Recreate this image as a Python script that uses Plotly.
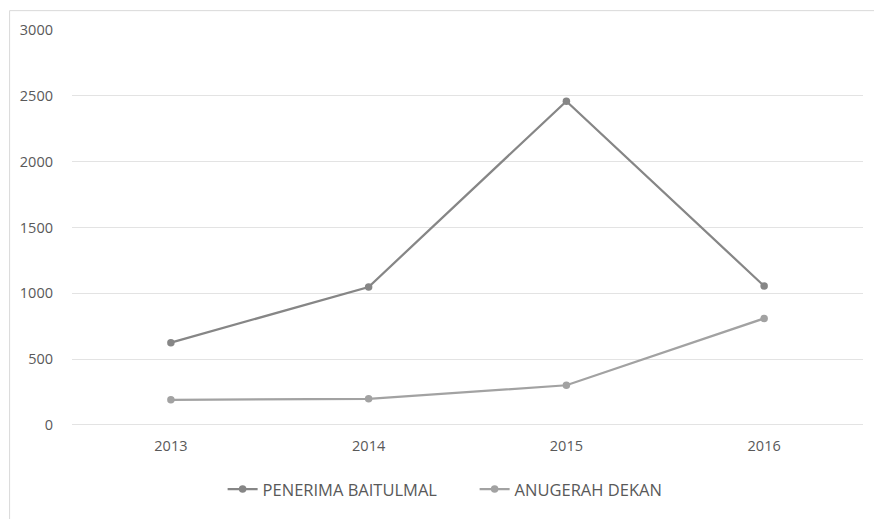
import plotly.graph_objects as go

years = ["2013", "2014", "2015", "2016"]
penerima_baitulmal = [625, 1048, 2460, 1055]
anugerah_dekan = [190, 198, 301, 809]
y_ticks = [0, 500, 1000, 1500, 2000, 2500, 3000]

fig = go.Figure()
fig.add_trace(go.Scatter(
    x=years, y=penerima_baitulmal, name="PENERIMA BAITULMAL",
    mode="lines+markers",
    line=dict(color="#868686", width=2.25),
    marker=dict(color="#868686", size=7.5),
))
fig.add_trace(go.Scatter(
    x=years, y=anugerah_dekan, name="ANUGERAH DEKAN",
    mode="lines+markers",
    line=dict(color="#a2a2a2", width=2.25),
    marker=dict(color="#a2a2a2", size=7.5),
))

fig.update_layout(
    width=874, height=511,
    margin=dict(l=63, r=19, t=20, b=93),
    paper_bgcolor="white", plot_bgcolor="white",
    font=dict(family="Open Sans, Noto Sans, sans-serif", size=14.5, color="#595959"),
    showlegend=True,
    legend=dict(orientation="h", x=0.509, xanchor="center", y=-0.163, yanchor="middle",
                font=dict(size=16.5, color="#595959"), tracegroupgap=0,
                entrywidth=207, entrywidthmode="pixels"),
    xaxis=dict(type="category", showgrid=False, zeroline=False, showline=False,
               ticks="", ticklabelstandoff=10, range=[-0.5, 3.5]),
    yaxis=dict(range=[-1, 3001], tickvals=y_ticks, showgrid=True, gridcolor="#e3e3e3",
               gridwidth=1, zeroline=True, zerolinecolor="#e3e3e3", zerolinewidth=1,
               showline=False, ticks="", ticklabelstandoff=18),
    shapes=[
        dict(type="line", xref="paper", yref="paper", x0=-0.0789, x1=1.03, y0=1.049, y1=1.049,
             line=dict(color="#d9d9d9", width=1)),
        dict(type="line", xref="paper", yref="paper", x0=-0.0789, x1=-0.0789, y0=1.049, y1=-0.25,
             line=dict(color="#d9d9d9", width=1)),
    ],
)

fig.write_html("out.html")
